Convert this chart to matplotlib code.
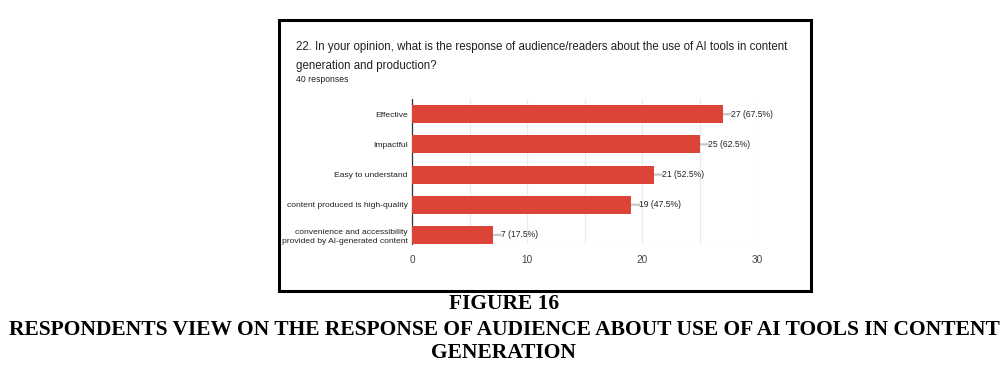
import matplotlib.pyplot as plt
from matplotlib.patches import Rectangle

categories = ['Effective', 'Impactful', 'Easy to understand',
              'content produced is high-quality',
              'convenience and accessibility\nprovided by AI-generated content']
counts = [27, 25, 21, 19, 7]
total = 40
x_ticks = [0, 10, 20, 30]

question = ['22. In your opinion, what is the response of audience/readers about the use of AI tools in content',
            'generation and production?']
caption = ['FIGURE 16',
           'RESPONDENTS VIEW ON THE RESPONSE OF AUDIENCE ABOUT USE OF AI TOOLS IN CONTENT',
           'GENERATION']

plt.rcParams['font.family'] = ['Liberation Sans', 'DejaVu Sans']

fig = plt.figure(figsize=(10.08, 3.8), dpi=100)
W, H = 1008, 380

# black frame around the screenshot
fig.patches.append(Rectangle((279 / W, 1 - 291 / H), 532 / W, 271 / H, transform=fig.transFigure,
                             fill=False, edgecolor='black', linewidth=2.2))

for line, yy in zip(question, [50, 69]):
    fig.text(296 / W, 1 - yy / H, line, fontsize=8.3, color='#212121', va='baseline')
fig.text(296 / W, 1 - 82 / H, f'{total} responses', fontsize=6.2, color='#212121', va='baseline')

ax = fig.add_axes([412 / W, 1 - 244 / H, 345 / W, 145.5 / H])
y = list(range(len(categories)))
ax.barh(y, counts, height=0.6, color='#db4437', zorder=3)
for yi, c in zip(y, counts):
    ax.annotate('', xy=(c, yi), xytext=(c + 0.75, yi),
                arrowprops=dict(arrowstyle='-', color='#c8c8c8', lw=1.6, shrinkA=0, shrinkB=0),
                zorder=2)
    ax.text(c + 0.75, yi, f'{c} ({c / total * 100:.1f}%)', fontsize=6.2, color='#222222',
            va='center', ha='left')

ax.set_xlim(0, 30)
ax.set_ylim(4.3, -0.52)
ax.set_yticks(y)
ax.set_yticklabels(categories, fontsize=6.1, color='#222222', linespacing=1.4)
ax.set_xticks(x_ticks)
ax.set_xticklabels([str(t) for t in x_ticks], fontsize=7.2, color='#444444')
ax.set_xticks(range(0, 31, 5), minor=True)
ax.tick_params(axis='both', which='both', length=0, pad=3)
ax.tick_params(axis='x', pad=8)
ax.grid(True, axis='x', which='both', color='#ebebeb', linewidth=0.9, zorder=0)
for s in ['top', 'right', 'bottom']:
    ax.spines[s].set_visible(False)
ax.spines['left'].set_color('#333333')
ax.spines['left'].set_linewidth(0.9)
ax.axhline(4.3, color='#ebebeb', linewidth=0.9, zorder=1)

cap_y = [304, 330, 353]
for txt, yy in zip(caption, cap_y):
    fig.text(0.5, 1 - yy / H, txt, ha='center', va='center', fontsize=15.5,
             fontweight='bold', family='Liberation Serif', color='black')

fig.savefig('out.png', dpi=100)
